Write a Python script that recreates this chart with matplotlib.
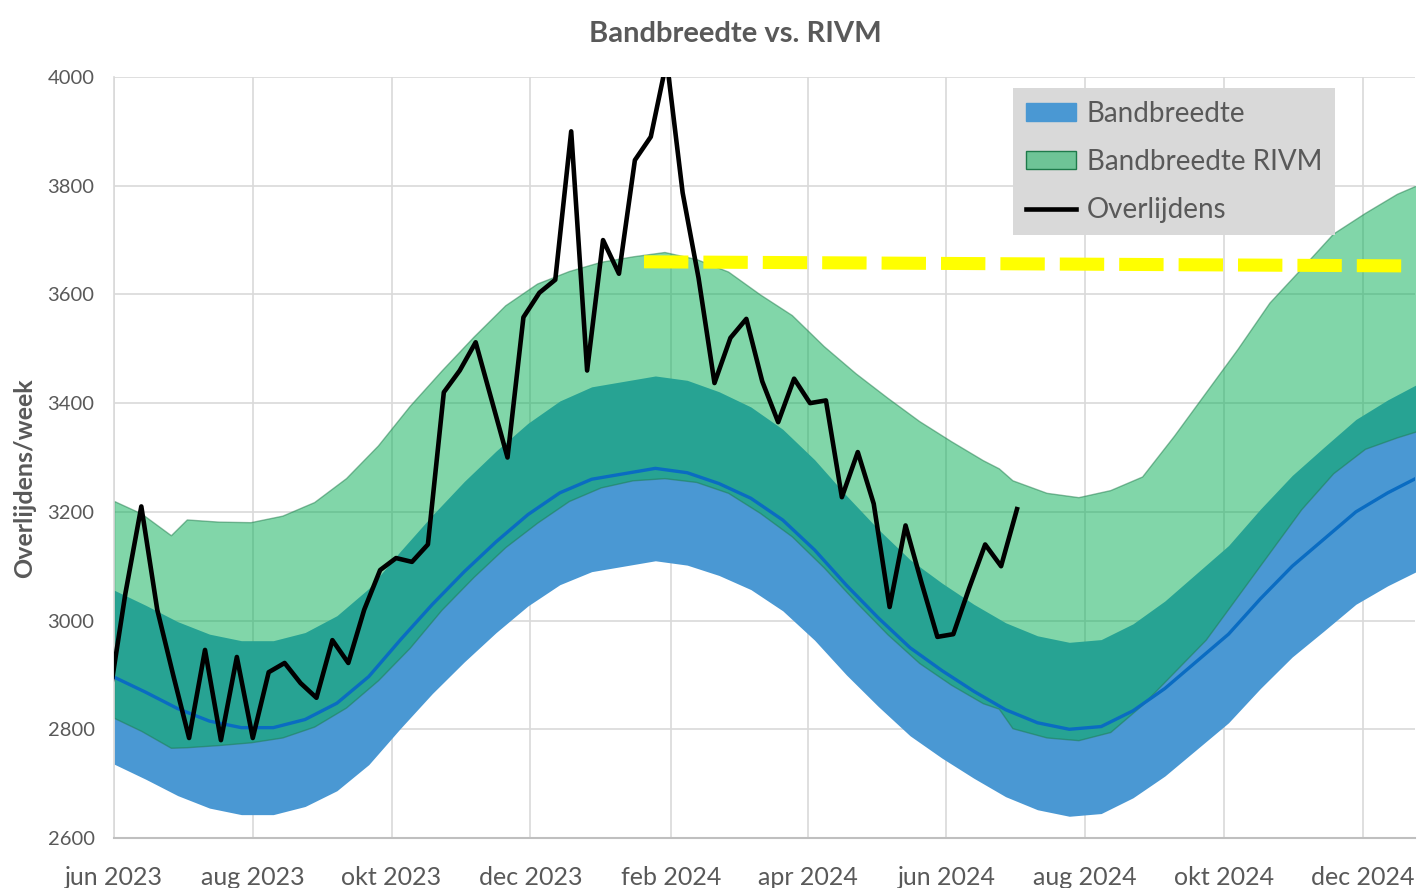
import pandas as pd
import matplotlib
matplotlib.use('Agg')
import matplotlib.pyplot as plt
from matplotlib.patches import Patch
from matplotlib.lines import Line2D

plt.rcParams['font.family'] = ['Lato', 'DejaVu Sans']

# own bandwidth (blue), every two weeks
band_dates = pd.date_range('2023-06-01', periods=42, freq='14D')
band_mid = [2896, 2868, 2838, 2815, 2803, 2803, 2818, 2848, 2897, 2965,
            3030, 3090, 3145, 3195, 3235, 3260, 3270, 3280, 3272, 3252,
            3225, 3185, 3130, 3065, 3005, 2950, 2908, 2870, 2836, 2812,
            2800, 2805, 2834, 2875, 2925, 2975, 3040, 3100, 3150, 3200,
            3235, 3265]
band_low = [2736, 2708, 2678, 2655, 2643, 2643, 2658, 2687, 2735, 2802,
            2866, 2924, 2978, 3027, 3066, 3090, 3100, 3110, 3102, 3083,
            3057, 3018, 2964, 2900, 2842, 2788, 2747, 2710, 2676, 2652,
            2640, 2645, 2674, 2714, 2763, 2812, 2875, 2933, 2981, 3030,
            3064, 3093]
band_high = [3056, 3028, 2998, 2975, 2963, 2963, 2978, 3009, 3059, 3128,
             3194, 3256, 3312, 3363, 3404, 3430, 3440, 3450, 3442, 3421,
             3393, 3352, 3296, 3230, 3168, 3112, 3069, 3030, 2996, 2972,
             2960, 2965, 2994, 3036, 3087, 3138, 3205, 3267, 3319, 3370,
             3406, 3437]

# RIVM bandwidth (green)
rivm_dates = pd.to_datetime([
    '2023-06-01', '2023-06-13', '2023-06-26', '2023-07-03', '2023-07-17',
    '2023-07-31', '2023-08-14', '2023-08-28', '2023-09-11', '2023-09-25',
    '2023-10-09', '2023-10-23', '2023-11-06', '2023-11-20', '2023-12-04',
    '2023-12-18', '2024-01-01', '2024-01-15', '2024-01-29', '2024-02-12',
    '2024-02-26', '2024-03-11', '2024-03-25', '2024-04-08', '2024-04-22',
    '2024-05-06', '2024-05-20', '2024-06-03', '2024-06-17', '2024-06-24',
    '2024-06-30', '2024-07-15', '2024-07-29', '2024-08-12', '2024-08-26',
    '2024-09-09', '2024-09-23', '2024-10-07', '2024-10-21', '2024-11-04',
    '2024-11-18', '2024-12-02', '2024-12-16', '2024-12-26'])
rivm_high = [3220, 3197, 3157, 3186, 3182, 3181, 3193, 3218, 3262, 3322,
             3395, 3460, 3522, 3580, 3620, 3643, 3660, 3670, 3678, 3665,
             3642, 3600, 3562, 3505, 3455, 3410, 3367, 3330, 3295, 3280,
             3258, 3235, 3227, 3240, 3265, 3340, 3420, 3500, 3585, 3648,
             3712, 3750, 3785, 3803]
rivm_low = [2821, 2797, 2766, 2767, 2771, 2776, 2785, 2805, 2840, 2890,
            2950, 3020, 3080, 3135, 3180, 3220, 3245, 3258, 3262, 3255,
            3235, 3198, 3155, 3098, 3035, 2975, 2922, 2882, 2848, 2838,
            2802, 2785, 2780, 2795, 2845, 2905, 2965, 3045, 3125, 3205,
            3271, 3316, 3337, 3350]

# weekly deaths
death_dates = pd.date_range('2023-05-30', periods=58, freq='7D')
deaths = [2860, 3050, 3210, 3020, 2900, 2784, 2946, 2780, 2933, 2784,
          2905, 2922, 2885, 2858, 2964, 2922, 3020, 3093, 3115, 3108,
          3140, 3420, 3460, 3512, 3406, 3300, 3558, 3603, 3627, 3900,
          3460, 3700, 3638, 3847, 3890, 4030, 3787, 3630, 3437, 3520,
          3555, 3440, 3365, 3445, 3400, 3405, 3227, 3310, 3215, 3025,
          3175, 3070, 2970, 2975, 3060, 3140, 3100, 3205]

ref_dates = pd.to_datetime(['2024-01-20', '2025-01-10'])
ref_level = [3660, 3652]

tick_dates = pd.to_datetime(['2023-06-01', '2023-08-01', '2023-10-01', '2023-12-01',
                             '2024-02-01', '2024-04-01', '2024-06-01', '2024-08-01',
                             '2024-10-01', '2024-12-01'])
tick_labels = ['jun 2023', 'aug 2023', 'okt 2023', 'dec 2023', 'feb 2024',
               'apr 2024', 'jun 2024', 'aug 2024', 'okt 2024', 'dec 2024']

blue = '#4A98D3'
green = '#05AF55'
text_grey = '#595959'

fig = plt.figure(figsize=(14.2, 8.88), dpi=100)
fig.patch.set_facecolor('white')
ax = fig.add_axes([0.0803, 0.0563, 0.9162, 0.857])

ax.fill_between(band_dates, band_low, band_high, color=blue, linewidth=0, zorder=1)
ax.fill_between(rivm_dates, rivm_low, rivm_high, facecolor=green, alpha=0.5,
                edgecolor='#1E7A4A', linewidth=1.0, zorder=2)
ax.plot(band_dates, band_mid, color='#0A6CC2', lw=2.4, zorder=3)
ax.plot(ref_dates, ref_level, color='#FFFF00', lw=9.4, dashes=(3.4, 1.15), zorder=4)
ax.plot(death_dates, deaths, color='black', lw=3.3, solid_joinstyle='round', zorder=5)

ax.set_xlim(pd.Timestamp('2023-06-01'), pd.Timestamp('2024-12-24'))
ax.set_ylim(2600, 4000)
ax.set_yticks(range(2600, 4001, 200))
ax.set_xticks(tick_dates)
ax.set_xticklabels(tick_labels)
ax.tick_params(axis='x', length=0, pad=20, labelsize=18, labelcolor=text_grey)
ax.tick_params(axis='y', length=0, pad=14, labelsize=14.5, labelcolor=text_grey)

ax.grid(True, color='#d9d9d9', lw=1.2)
ax.set_axisbelow(True)
ax.spines[['top', 'right']].set_visible(False)
ax.spines['left'].set_color('#d9d9d9')
ax.spines['left'].set_linewidth(1.2)
ax.spines['bottom'].set_color('#bfbfbf')
ax.spines['bottom'].set_linewidth(1.5)

handles = [
    Patch(facecolor=blue, edgecolor=blue),
    Patch(facecolor=(0.02, 0.69, 0.33, 0.5), edgecolor='#1E7A4A'),
    Line2D([0], [0], color='black', lw=3.3),
]
leg = ax.legend(handles, ['Bandbreedte', 'Bandbreedte RIVM', 'Overlijdens'],
                loc='upper left', bbox_to_anchor=(0.691, 0.9855), borderaxespad=0,
                fontsize=20, frameon=True, fancybox=False, framealpha=1,
                facecolor='#d9d9d9', edgecolor='none', handlelength=1.8,
                handleheight=0.6, handletextpad=0.4, labelspacing=0.8,
                borderpad=0.45)
for t in leg.get_texts():
    t.set_color(text_grey)

fig.text(0.5176, 0.962, 'Bandbreedte vs. RIVM', ha='center', va='center',
         fontsize=21, fontweight='bold', color=text_grey)
fig.text(0.0176, 0.4617, 'Overlijdens/week', rotation=90, ha='center', va='center',
         fontsize=18, fontweight='bold', color=text_grey)

fig.savefig('out.png', dpi=100)
